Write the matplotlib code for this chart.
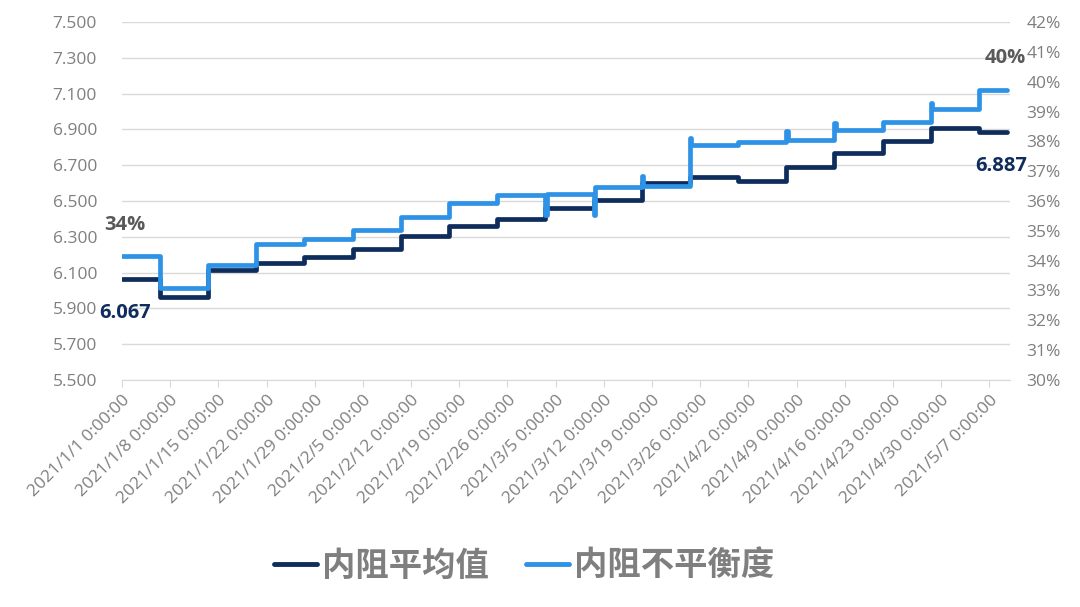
import matplotlib
matplotlib.use("Agg")
import matplotlib.pyplot as plt
from matplotlib.ticker import FuncFormatter
from matplotlib.lines import Line2D
import pandas as pd

# ---- data ----
step_starts = ['2021-01-01 00:00', '2021-01-06 12:00', '2021-01-13 12:00', '2021-01-20 12:00',
               '2021-01-27 12:00', '2021-02-03 12:00', '2021-02-10 12:00', '2021-02-17 12:00',
               '2021-02-24 12:00', '2021-03-03 12:00', '2021-03-10 12:00', '2021-03-17 12:00',
               '2021-03-24 12:00', '2021-03-31 12:00', '2021-04-07 12:00', '2021-04-14 12:00',
               '2021-04-21 12:00', '2021-04-28 12:00', '2021-05-05 12:00']
end_time = '2021-05-09 14:00'

avg_resistance = [6.067, 5.964, 6.115, 6.155, 6.185, 6.232, 6.306, 6.360, 6.400, 6.459,
                  6.506, 6.600, 6.636, 6.613, 6.690, 6.766, 6.837, 6.906, 6.887]
imbalance_pct = [34.17, 33.07, 33.85, 34.56, 34.73, 35.03, 35.47, 35.94, 36.20, 36.22,
                 36.46, 36.50, 37.88, 37.99, 38.04, 38.38, 38.66, 39.07, 39.72]
# short one-off readings of the imbalance at a few step changes
spike_times = ['2021-03-03 12:00', '2021-03-10 12:00', '2021-03-17 12:00', '2021-03-24 12:00',
               '2021-04-07 12:00', '2021-04-14 12:00', '2021-04-28 12:00']
spike_pct = [35.53, 35.53, 36.84, 38.10, 38.36, 38.60, 39.27]

tick_dates = ['2021-01-01', '2021-01-08', '2021-01-15', '2021-01-22', '2021-01-29', '2021-02-05',
              '2021-02-12', '2021-02-19', '2021-02-26', '2021-03-05', '2021-03-12', '2021-03-19',
              '2021-03-26', '2021-04-02', '2021-04-09', '2021-04-16', '2021-04-23', '2021-04-30',
              '2021-05-07']
tick_labels = ['2021/1/1 0:00:00', '2021/1/8 0:00:00', '2021/1/15 0:00:00', '2021/1/22 0:00:00',
               '2021/1/29 0:00:00', '2021/2/5 0:00:00', '2021/2/12 0:00:00', '2021/2/19 0:00:00',
               '2021/2/26 0:00:00', '2021/3/5 0:00:00', '2021/3/12 0:00:00', '2021/3/19 0:00:00',
               '2021/3/26 0:00:00', '2021/4/2 0:00:00', '2021/4/9 0:00:00', '2021/4/16 0:00:00',
               '2021/4/23 0:00:00', '2021/4/30 0:00:00', '2021/5/7 0:00:00']
left_ticks = [5.5, 5.7, 5.9, 6.1, 6.3, 6.5, 6.7, 6.9, 7.1, 7.3, 7.5]
right_ticks = [30, 31, 32, 33, 34, 35, 36, 37, 38, 39, 40, 41, 42]
series_names = ['内阻平均值', '内阻不平衡度']

NAVY = '#0f2d5c'
BLUE = '#2e93e6'
GRAY = '#7f7f7f'
GRID = '#d9d9d9'

plt.rcParams['font.family'] = ['Open Sans', 'Noto Sans CJK SC', 'DejaVu Sans']

fig = plt.figure(figsize=(10.8, 6.07), dpi=100)
ax = fig.add_axes([122/1080, 1-380/607, (1010-122)/1080, (380-22)/607])
ax2 = ax.twinx()

starts = pd.to_datetime(step_starts)
end = pd.Timestamp(end_time)

# navy series (step)
xn = list(starts) + [end]
yn = list(avg_resistance) + [avg_resistance[-1]]
ax.plot(xn, yn, drawstyle='steps-post', color=NAVY, lw=3.4, solid_joinstyle='round',
        solid_capstyle='round', zorder=3)

# blue series (step with short spikes)
sp = dict(zip(pd.to_datetime(spike_times), spike_pct))
xb, yb = [], []
for t, v in zip(starts, imbalance_pct):
    if t in sp:
        xb.append(t); yb.append(sp[t])
        xb.append(t + pd.Timedelta(hours=5)); yb.append(v)
    else:
        xb.append(t); yb.append(v)
xb.append(end); yb.append(imbalance_pct[-1])
ax2.plot(xb, yb, drawstyle='steps-post', color=BLUE, lw=3.4, solid_joinstyle='round',
         solid_capstyle='round', zorder=3)

# axes limits
ax.set_xlim(pd.Timestamp('2021-01-01'), pd.Timestamp('2021-05-10'))
ax.set_ylim(5.5, 7.5)
ax2.set_ylim(30, 42)
ax.set_yticks(left_ticks)
ax.yaxis.set_major_formatter(FuncFormatter(lambda v, p: f'{v:.3f}'))
ax2.set_yticks(right_ticks)
ax2.yaxis.set_major_formatter(FuncFormatter(lambda v, p: f'{v:.0f}%'))

ax.set_xticks(pd.to_datetime(tick_dates))
ax.set_xticklabels(tick_labels, rotation=45, ha='right', va='top', rotation_mode='anchor')

ax.grid(axis='y', color=GRID, lw=1.0)
ax.set_axisbelow(True)
for a in (ax, ax2):
    for s in ['top', 'right', 'left']:
        a.spines[s].set_visible(False)
ax2.spines['bottom'].set_visible(False)
ax.spines['bottom'].set_color(GRID)
ax.tick_params(axis='y', length=0, labelsize=12.5, labelcolor=GRAY, pad=18)
ax2.tick_params(axis='y', length=0, labelsize=12.5, labelcolor=GRAY, pad=12)
ax.tick_params(axis='x', length=5, color=GRID, labelsize=12.5, labelcolor=GRAY, pad=4)

# data labels
lab_kw = dict(textcoords='offset points', ha='center', va='center', fontsize=14.5,
              fontweight='bold', annotation_clip=False)
ax.annotate(f'{avg_resistance[0]:.3f}', (starts[0], avg_resistance[0]), xytext=(2, -25),
            color=NAVY, **lab_kw)
ax.annotate(f'{avg_resistance[-1]:.3f}', (end, avg_resistance[-1]), xytext=(-4, -25),
            color=NAVY, **lab_kw)
ax2.annotate(f'{imbalance_pct[0]:.0f}%', (starts[0], imbalance_pct[0]), xytext=(2, 22),
             color='#595959', **lab_kw)
ax2.annotate(f'{imbalance_pct[-1]:.0f}%', (end, imbalance_pct[-1]), xytext=(-1, 23),
             color='#595959', **lab_kw)

# legend
handles = [Line2D([], [], color=NAVY, lw=3.5, solid_capstyle='round'),
           Line2D([], [], color=BLUE, lw=3.5, solid_capstyle='round')]
leg = fig.legend(handles, series_names, loc='center', bbox_to_anchor=(524/1080, 1-566/607),
                 ncol=2, frameon=False, handlelength=1.3, handletextpad=0.15,
                 columnspacing=1.1, prop={'family': ['Noto Sans CJK SC'], 'weight': 'bold',
                                           'size': 24})
for t in leg.get_texts():
    t.set_color(GRAY)

fig.savefig('out.png', dpi=100, facecolor='white')
